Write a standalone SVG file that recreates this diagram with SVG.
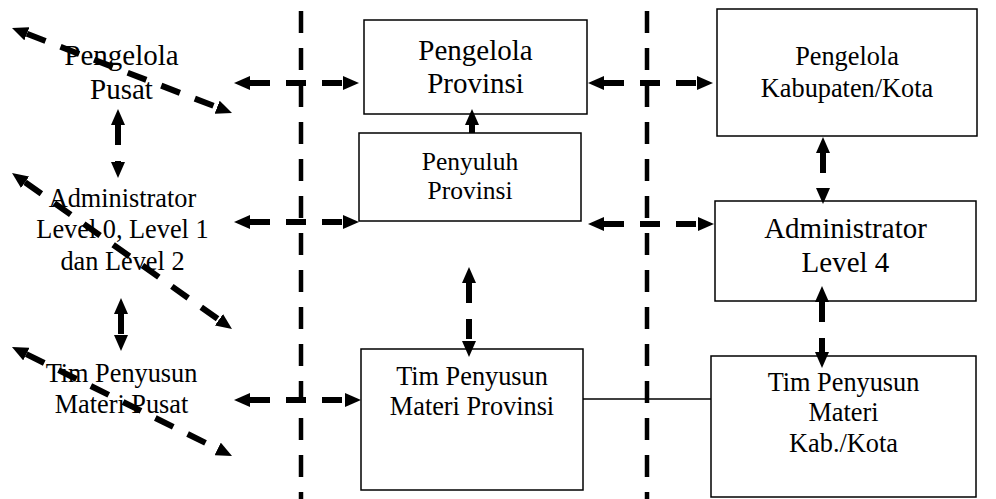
<svg xmlns="http://www.w3.org/2000/svg" width="996" height="499" viewBox="0 0 996 499">
<style>
text{font-family:"Liberation Serif","Times New Roman",serif;fill:#000;text-anchor:middle}
.t29{font-size:29px}
.t26{font-size:26.3px}
.t25{font-size:25.5px}
.box{fill:#fff;stroke:#000;stroke-width:1.5}
.div{stroke:#000;stroke-width:4.5;stroke-dasharray:22 15;fill:none}
.arr{stroke:#000;stroke-width:6;stroke-dasharray:20 16;fill:none;marker-start:url(#ah);marker-end:url(#ah)}
.sarr{stroke:#000;stroke-width:6;fill:none;marker-end:url(#ah)}
.ln{stroke:#000;stroke-width:1.5;fill:none}
</style>
<defs>
<marker id="ah" viewBox="0 0 16 14" refX="0" refY="7" markerWidth="16" markerHeight="14" markerUnits="userSpaceOnUse" orient="auto-start-reverse"><path d="M0,0 L16,7 L0,14 z" fill="#000"/></marker>
</defs>
<rect width="996" height="499" fill="#fff"/>
<g id="dividers">
<line class="div" x1="301" y1="11" x2="301" y2="499"/>
<line class="div" x1="647" y1="11" x2="647" y2="499"/>
</g>
<g id="pengelola-pusat">
<text class="t29" x="121.5" y="65">Pengelola</text>
<text class="t29" x="121.5" y="99">Pusat</text>
</g>
<g id="administrator-pusat">
<text class="t26" x="122.5" y="207">Administrator</text>
<text class="t26" x="122.5" y="238">Level 0, Level 1</text>
<text class="t26" x="122.5" y="270">dan Level 2</text>
</g>
<g id="tim-pusat">
<text class="t26" x="121.5" y="382">Tim Penyusun</text>
<text class="t26" x="121.5" y="413">Materi Pusat</text>
</g>
<g id="pengelola-provinsi">
<rect class="box" x="364" y="20" width="223" height="94"/>
<text class="t29" x="475.5" y="60">Pengelola</text>
<text class="t29" x="475.5" y="93">Provinsi</text>
</g>
<g id="penyuluh-provinsi">
<rect class="box" x="359" y="133" width="222" height="88"/>
<text class="t25" x="470" y="170">Penyuluh</text>
<text class="t25" x="470" y="199">Provinsi</text>
</g>
<g id="tim-provinsi">
<rect class="box" x="361" y="349" width="222" height="141"/>
<text class="t26" x="472" y="385">Tim Penyusun</text>
<text class="t26" x="472" y="415">Materi Provinsi</text>
</g>
<g id="pengelola-kabkota">
<rect class="box" x="717" y="9" width="260" height="127"/>
<text class="t26" x="847" y="65">Pengelola</text>
<text class="t26" x="847" y="97">Kabupaten/Kota</text>
</g>
<g id="administrator-level4">
<rect class="box" x="715" y="201" width="261" height="100"/>
<text class="t29" x="845.5" y="238">Administrator</text>
<text class="t29" x="845.5" y="272">Level 4</text>
</g>
<g id="tim-kabkota">
<rect class="box" x="711" y="356" width="265" height="141"/>
<text class="t26" x="843.5" y="391">Tim Penyusun</text>
<text class="t26" x="843.5" y="421">Materi</text>
<text class="t26" x="843.5" y="452">Kab./Kota</text>
</g>
<g id="connectors">
<line class="arr" x1="250" y1="83" x2="343" y2="83"/>
<line class="arr" x1="250" y1="222" x2="343" y2="222"/>
<line class="arr" x1="250" y1="400" x2="345" y2="400"/>
<line class="arr" x1="604" y1="83" x2="697" y2="83"/>
<line class="arr" x1="604" y1="224" x2="698" y2="224"/>
<line class="arr" x1="118" y1="125" x2="118" y2="162"/>
<line class="arr" x1="121" y1="314" x2="121" y2="335"/>
<line class="sarr" x1="472" y1="133" x2="472" y2="125"/>
<line class="arr" x1="469" y1="283" x2="469" y2="341"/>
<line class="arr" x1="823" y1="153" x2="823" y2="188"/>
<line class="arr" x1="822" y1="302" x2="822" y2="352"/>
<line class="arr" x1="26.9" y1="33.8" x2="217.1" y2="107.2"/>
<line class="arr" x1="25.05" y1="182.25" x2="218.95" y2="319.75"/>
<line class="arr" x1="26.3" y1="354.1" x2="217.7" y2="448.9"/>
<line class="ln" x1="583" y1="399" x2="711" y2="399"/>
</g>
</svg>
